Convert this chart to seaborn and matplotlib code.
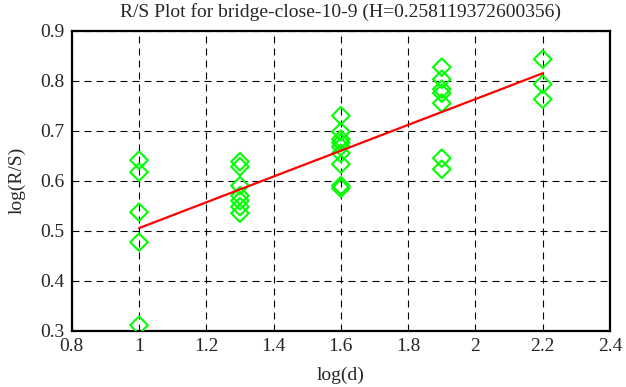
import numpy as np
import pandas as pd
import matplotlib
matplotlib.use("Agg")
import matplotlib.pyplot as plt
import seaborn as sns

# data
log_d = [1.0] * 5 + [1.3] * 7 + [1.6] * 9 + [1.9] * 7 + [2.2] * 3
log_rs = [
    0.641, 0.617, 0.537, 0.477, 0.311,
    0.638, 0.628, 0.590, 0.570, 0.560, 0.548, 0.535,
    0.730, 0.698, 0.683, 0.676, 0.668, 0.655, 0.633, 0.590, 0.585,
    0.827, 0.803, 0.783, 0.775, 0.755, 0.645, 0.623,
    0.843, 0.793, 0.763,
]
H = 0.258119372600356
intercept = 0.247
x_ticks = [0.8, 1, 1.2, 1.4, 1.6, 1.8, 2, 2.2, 2.4]
y_ticks = [0.3, 0.4, 0.5, 0.6, 0.7, 0.8, 0.9]

df = pd.DataFrame({"log_d": log_d, "log_rs": log_rs})

sns.set_style("white")
plt.rcParams["font.family"] = ["Liberation Serif", "DejaVu Serif"]

fig = plt.figure(figsize=(6.26, 3.87), dpi=100)
ax = fig.add_axes([71.7 / 626, 1 - 330.7 / 387, (610 - 71.7) / 626, 300 / 387])

sns.scatterplot(data=df, x="log_d", y="log_rs", marker="D", s=80,
                facecolor="none", edgecolor="#00ff00", linewidth=1.5,
                ax=ax, zorder=3)

fit_x = np.array([min(log_d), max(log_d)])
sns.lineplot(x=fit_x, y=H * fit_x + intercept, color="red", linewidth=1.6,
             ax=ax, zorder=4)

ax.set_xlim(0.8, 2.4)
ax.set_ylim(0.3, 0.9)
ax.set_xticks(x_ticks)
ax.set_xticklabels([f"{t:g}" for t in x_ticks])
ax.set_yticks(y_ticks)
ax.set_yticklabels([f"{t:g}" for t in y_ticks])
ax.tick_params(labelsize=14, length=0, pad=5)

ax.grid(True, color="black", linestyle=(0, (6.3, 4.5)), linewidth=0.8)
for s in ax.spines.values():
    s.set_visible(True)
    s.set_color("black")
    s.set_linewidth(1.6)

ax.set_title("R/S Plot for bridge-close-10-9 (H=0.258119372600356)",
             fontsize=14, pad=10)
ax.set_xlabel("log(d)", fontsize=14, labelpad=9)
ax.set_ylabel("log(R/S)", fontsize=14, labelpad=11)

fig.savefig("out.png", dpi=100)
